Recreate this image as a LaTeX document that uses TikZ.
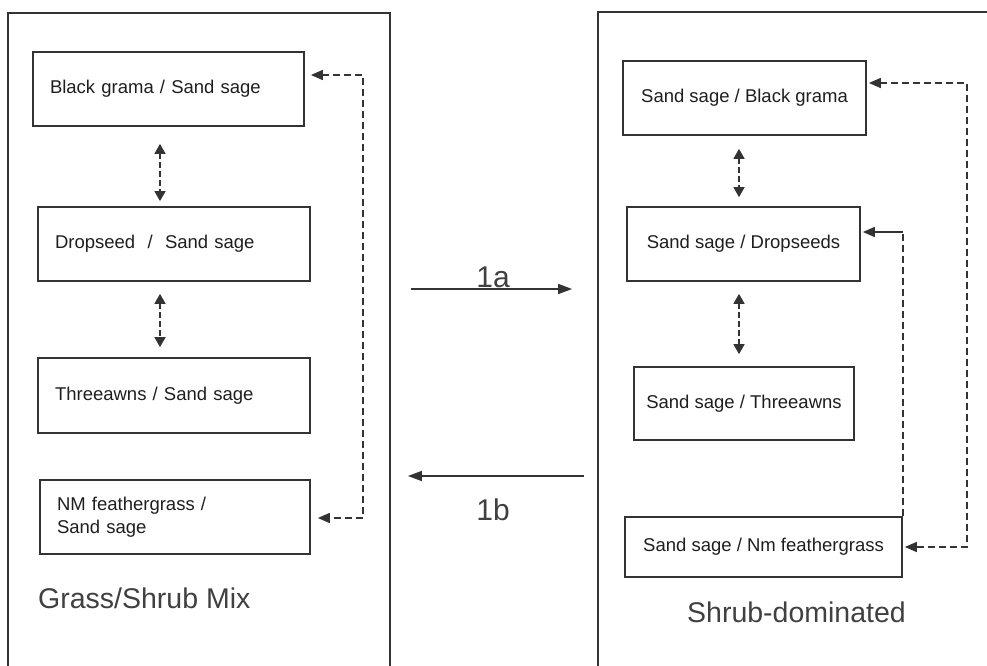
\documentclass[tikz,border=0pt]{standalone}
\usepackage{fontspec}
\setmainfont{Liberation Sans}
\usetikzlibrary{arrows.meta,calc}
\definecolor{linec}{HTML}{333333}
\definecolor{textc}{HTML}{1E1E1E}
\definecolor{labc}{HTML}{404040}
\tikzset{
  box/.style={draw=linec, line width=1.7pt, rectangle, text=textc,
    font=\fontsize{18.5}{23}\selectfont, inner ysep=0pt},
  lbox/.style={box, align=left, inner xsep=17pt},
  rbox/.style={box, align=center, inner xsep=0pt},
  outer/.style={draw=linec, line width=1.8pt, rectangle, inner sep=0pt},
  fb/.style={draw=linec, line width=1.5pt, dash pattern=on 7pt off 4pt,
    {Triangle[length=12pt,width=10pt]}-{Triangle[length=12pt,width=10pt]}},
  fbone/.style={draw=linec, line width=1.5pt, dash pattern=on 7pt off 4pt},
  fbsolid/.style={draw=linec, line width=1.5pt, -{Triangle[length=12pt,width=10pt]}},
  sm/.style={draw=linec, line width=1.5pt, dash pattern=on 6pt off 3pt,
    {Triangle[length=10pt,width=11pt]}-{Triangle[length=10pt,width=11pt]}},
  mainarr/.style={draw=linec, line width=1.7pt, -{Triangle[length=14pt,width=10pt]}},
  lab/.style={text=labc, font=\fontsize{28.5}{32}\selectfont, inner sep=0pt},
  numlab/.style={text=labc, font=\fontsize{30}{34}\selectfont, inner sep=0pt}
}
\begin{document}
\begin{tikzpicture}[x=1pt,y=-1pt]
\useasboundingbox (0,0) rectangle (987,666);
\clip (0,0) rectangle (987,666);

% outer frames (bottom / right edges lie outside the picture)
\node[outer, minimum width=382pt, minimum height=687pt] (lo) at (199,356.5) {};
\node[outer, minimum width=420pt, minimum height=688pt] (ro) at (808,356) {};

% left column
\node[lbox, text width=237pt, minimum height=74pt] (lg1) at (168.5,89) {Black grama / Sand sage};
\node[lbox, text width=238pt, minimum height=74pt] (lg2) at (174,244) {Dropseed\ \ /\ \ Sand sage};
\node[lbox, text width=238pt, minimum height=75pt] (lg3) at (174,395.5) {Threeawns / Sand sage};
\node[lbox, text width=236pt, minimum height=74pt] (lg4) at (175,517) {NM feathergrass /\\Sand sage};
\node[lab, anchor=base west] (lt) at (38,608) {Grass/Shrub Mix};

% right column
\node[rbox, minimum width=243pt, minimum height=74pt] (rs1) at (744.5,98) {Sand sage / Black grama};
\node[rbox, minimum width=233pt, minimum height=74pt] (rs2) at (743.5,244) {Sand sage / Dropseeds};
\node[rbox, minimum width=220pt, minimum height=73pt] (rs3) at (744,403.5) {Sand sage / Threeawns};
\node[rbox, minimum width=277pt, minimum height=60pt] (rs4) at (763.5,547) {Sand sage / Nm feathergrass};
\node[lab, anchor=base west] (rt) at (687,622) {Shrub-dominated};

% small two-way arrows
\coordinate (lax) at (160,0);
\coordinate (rax) at (739,0);
\draw[sm, shorten <=17pt, shorten >=5pt] (lg1.south -| lax) -- (lg2.north -| lax);
\draw[sm, shorten <=12pt, shorten >=10pt] (lg2.south -| lax) -- (lg3.north -| lax);
\draw[sm, shorten <=13pt, shorten >=9pt] (rs1.south -| rax) -- (rs2.north -| rax);
\draw[sm, shorten <=12pt, shorten >=12pt] (rs2.south -| rax) -- (rs3.north -| rax);

% feedback loops
\draw[fb] ($(lg1.east)+(6,-14)$) -- (363,75) -- (363,518) -- ($(lg4.east)+(7,1)$);
\draw[fb] ($(rs1.east)+(2,-15)$) -- (967,83) -- (967,547) -- ($(rs4.east)+(2,0)$);
\coordinate (riy) at (0,232);
\draw[fbone] (rs4.north east) -- (rs4.north east |- riy);
\draw[fbsolid] (rs4.north east |- riy) -- ($(rs2.east)+(2,-12)$);

% transitions
\coordinate (ya) at (0,289);
\coordinate (yb) at (0,476);
\draw[mainarr, shorten <=20pt, shorten >=25pt] (lo.east |- ya) -- (ro.west |- ya);
\draw[mainarr, shorten <=13pt, shorten >=17pt] (ro.west |- yb) -- (lo.east |- yb);
\node[numlab, anchor=base] (l1a) at (493,287) {1a};
\node[numlab, anchor=base] (l1b) at (493,520) {1b};
\end{tikzpicture}
\end{document}
